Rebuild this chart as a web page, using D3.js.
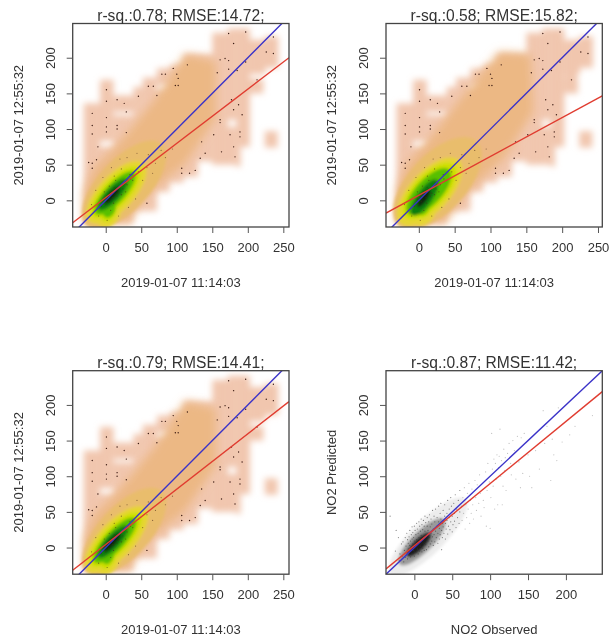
<!DOCTYPE html>
<html>
<head>
<meta charset="utf-8">
<script src="https://cdn.jsdelivr.net/npm/d3@7/dist/d3.min.js"></script>
<style>
  html, body { margin: 0; padding: 0; background: #fff; }
  svg { display: block; filter: blur(0.35px); }
  text { font-family: "Liberation Sans", sans-serif; fill: #333; }
</style>
</head>
<body>
<div class="chart"></div>
<script>
// values
const titles = ["r-sq.:0.78; RMSE:14.72;", "r-sq.:0.58; RMSE:15.82;", "r-sq.:0.79; RMSE:14.41;", "r-sq.:0.87; RMSE:11.42;"];
const xLabels = ["2019-01-07 11:14:03", "2019-01-07 11:14:03", "2019-01-07 11:14:03", "NO2 Observed"];
const yLabels = ["2019-01-07 12:55:32", "2019-01-07 12:55:32", "2019-01-07 12:55:32", "NO2 Predicted"];
const xTicks = [[0, 50, 100, 150, 200, 250], [0, 50, 100, 150, 200, 250], [0, 50, 100, 150, 200, 250], [0, 50, 100, 150, 200]];
const yTicks = [0, 50, 100, 150, 200];
const xDomains = [[-46.5, 258], [-45.8, 256], [-46.5, 258], [-37.4, 248]];
const yDomain = [-37.4, 248];
// regression fit [slope, intercept]
const fits = [[0.76, 3.9], [0.545, 7], [0.777, 4.2], [0.871, 2.6]];

// smoothed density: low-density patches [x0, x1, y0, y1]
const lowDensity = [
  [-31, -8, -33, 136], [-8, 11, -33, 75], [-8, 11, 83, 169], [11, 39, -33, 119], [11, 39, 124, 147],
  [39, 52, -15, 159], [52, 72, -15, 172], [72, 90, 12, 154], [72, 90, 162, 185], [90, 110, 25, 190],
  [110, 130, 33, 205], [130, 150, 55, 205], [150, 172, 50, 235], [172, 184, 50, 103], [172, 184, 113, 241],
  [184, 203, 75, 241], [184, 190, 47, 75], [203, 222, 150, 170], [203, 225, 177, 225], [224, 243, 186, 230],
  [224, 242, 74, 97]
];
// extra patch seen only in the second panel
const lowDensityExtra = [[], [[204, 221, 155, 178]], [], []];
// medium density region (x, y outline)
const midDensity = [
  [[-30, -32], [32, -30], [58, 8], [112, 52], [155, 115], [155, 195], [112, 205], [68, 140], [20, 82], [-16, 46], [-30, 12]],
  [[-30, -32], [38, -30], [64, 8], [118, 58], [160, 125], [156, 205], [112, 208], [68, 155], [20, 92], [-16, 52], [-30, 16]],
  [[-30, -32], [32, -30], [58, 8], [112, 52], [155, 115], [155, 195], [112, 205], [68, 140], [20, 82], [-16, 46], [-30, 12]],
  []
];
// density core [level, cx, cy, half length, half width, tilt]
const coreBands = [
  [[0, 26, 22, 78, 36, 47], [1, 15, 11, 56, 25, 47], [1, 3, -15, 24, 18, 70], [2, 14, 11, 47, 19, 47], [2, 4, -13, 18, 12, 70],
   [3, 13, 10, 40, 14, 47], [3, 5, -11, 14, 9, 70], [4, 10, 8, 29, 10, 47], [5, 9, 7, 16, 5, 47]],
  [[0, 26, 24, 80, 40, 47], [1, 15, 12, 60, 28, 47], [1, 4, -12, 24, 20, 70], [2, 15, 13, 50, 23, 47], [2, 5, -8, 18, 14, 70],
   [3, 14, 12, 42, 18, 47], [3, 5, -6, 15, 11, 70], [4, 8, 4, 30, 11, 55], [5, 7, 3, 15, 5, 55]],
  [[0, 26, 22, 78, 36, 47], [1, 15, 11, 60, 25, 47], [1, 3, -15, 24, 17, 70], [2, 14, 11, 50, 19, 47], [2, 3, -13, 18, 11, 70],
   [3, 13, 10, 42, 14, 47], [3, 4, -10, 14, 8, 70], [4, 10, 8, 30, 10, 47], [5, 9, 7, 17, 5, 47]],
  [[6, 18, 15, 70, 22, 45], [7, 10, 8, 42, 14, 45], [8, 6, 4, 22, 8, 45]]
];
// single points visible in the three density panels
const outliers = [
  [-19, 122], [-19, 105], [-19, 93], [1, 155], [1, 139], [1, 116], [1, 103], [1, 96], [16, 141], [26, 136], [29, 124],
  [16, 105], [16, 100], [29, 95], [46, 146], [60, 160], [67, 160], [72, 147], [79, 177], [84, 177], [95, 185], [100, 177],
  [102, 171], [98, 161], [102, 161], [115, 190], [-11, 75], [-24, 53], [-19, 52], [-19, 45], [-13, 57], [58, -4], [107, 45],
  [107, 38], [118, 38], [126, 42], [135, 82], [140, 66], [133, 59], [152, 92], [161, 113], [161, 109], [163, 68], [175, 92],
  [180, 75], [189, 89], [189, 96], [182, 61], [180, 127], [187, 134], [192, 120], [177, 141], [157, 179], [161, 197],
  [168, 199], [173, 196], [173, 184], [185, 182], [180, 220], [197, 236], [173, 234], [236, 229], [226, 208], [236, 206],
  [197, 194], [213, 169]
];
// faint speckle over the orange and yellow part
const speckle = [
  [12, 34], [22, 44], [35, 30], [46, 40], [52, 28], [58, 46], [66, 38], [70, 52], [84, 60], [78, 70], [94, 72], [60, 64],
  [44, 66], [30, 60], [20, 58], [8, 46], [-4, 32], [-14, 14], [-20, -6], [-10, -22], [2, -28], [18, -22], [32, -10], [42, 2],
  [2, 6], [6, 12], [10, 4], [14, 14], [18, 10], [4, -2], [9, 9], [12, 18], [20, 20], [24, 16], [16, 6], [-2, 2], [0, -6],
  [26, 26], [30, 22], [34, 36], [38, 28], [-6, -8], [7, -14], [11, -4], [22, 8], [28, 12], [-2, 12], [5, 20], [14, 28]
];
// observed vs predicted points of the last panel
const obsPred = [
  [-32, 44], [-25, -5], [-24, 24], [-21, 14], [-20, -18], [-19, -9], [-17, 5], [-16, -12], [-15, 8], [-14, -20], [-13, -4],
  [-12, 14], [-12, -14], [-11, 2], [-10, -7], [-10, 20], [-9, 11], [-9, -16], [-8, -2], [-8, 6], [-7, -11], [-7, 15],
  [-6, 3], [-6, 24], [-6, -6], [-5, 9], [-5, -13], [-4, 18], [-4, 1], [-3, 29], [-3, -9], [-3, 12], [-2, 5], [-2, 21],
  [-1, -4], [-1, 14], [0, 30], [0, 9], [0, -12], [1, 24], [1, 3], [2, 18], [2, -7], [3, 34], [3, 11], [4, 26], [4, -2],
  [5, 20], [5, -9], [6, 36], [6, 14], [7, 30], [7, -5], [8, 23], [8, 2], [9, 40], [9, 17], [10, 32], [10, -6], [11, 25],
  [11, -1], [12, 38], [12, 12], [13, 30], [13, -4], [14, 23], [14, 44], [15, 4], [15, 35], [16, 18], [16, -3], [17, 30],
  [17, 42], [18, 9], [18, 24], [19, 36], [19, 1], [20, 46], [20, 14], [21, 29], [21, 5], [22, 40], [22, 20], [23, 9],
  [23, 33], [24, 52], [24, 15], [25, 26], [25, 3], [26, 44], [26, 18], [27, 36], [27, 8], [28, 54], [28, 23], [29, 14],
  [30, 42], [30, 30], [31, 6], [31, 20], [32, 58], [32, 36], [33, 12], [33, 27], [34, 48], [34, 18], [35, 40], [35, 62],
  [36, -3], [36, 24], [37, 34], [37, 14], [38, 52], [38, 29], [39, 20], [40, 44], [40, 60], [41, 34], [41, 12], [42, 26],
  [43, 48], [43, 38], [44, 66], [44, 19], [45, 30], [46, 54], [46, 42], [47, 25], [48, 36], [48, 70], [49, 58], [50, 44],
  [50, 22], [51, 32], [52, 62], [53, 48], [53, 37], [54, 74], [55, 28], [56, 54], [57, 42], [58, 66], [59, 34], [60, 80],
  [60, 50], [62, 58], [63, 38], [64, 70], [65, 48], [66, 84], [67, 26], [68, 60], [69, 42], [70, 76], [71, 54], [72, 90],
  [73, 34], [74, 66], [75, 48], [76, 82], [77, 60], [78, 40], [80, 94], [81, 70], [82, 52], [83, 88], [85, 62], [86, 102],
  [87, 76], [88, 44], [90, 90], [91, 66], [92, 56], [94, 106], [95, 30], [96, 80], [97, 118], [99, 92], [100, 27], [101, 70],
  [102, 160], [103, 110], [104, 86], [105, 124], [106, 54], [107, 118], [108, 96], [109, 130], [110, 60], [111, 112],
  [112, 128], [113, 166], [114, 100], [115, 122], [116, 60], [117, 86], [118, 138], [119, 108], [120, 126], [121, 80],
  [123, 132], [125, 146], [127, 118], [128, 102], [130, 150], [132, 136], [134, 96], [136, 156], [138, 120], [140, 84],
  [141, 154], [143, 104], [145, 160], [150, 130], [152, 100], [155, 84], [160, 136], [165, 110], [170, 192], [172, 146],
  [175, 170], [180, 94], [182, 152], [184, 130], [188, 122], [190, 196], [195, 148], [205, 158], [212, 170], [235, 185]
];

const levelColors = ["#e9bd6c", "#e6d530", "#cfdf00", "#58c000", "#0a7f10", "#0a260a", "#ececec", "#9a9a9a", "#1c1c1c"];

const boxes = [
  { left: 72.7, top: 23.5 }, { left: 386, top: 23.5 },
  { left: 72.7, top: 370.7 }, { left: 386, top: 370.7 }
];
const boxW = 216.3, boxH = 203.5;

const svg = d3.select(".chart").append("svg").attr("width", 609).attr("height", 636);
const defs = svg.append("defs");
[["blurLow", 3], ["blurMid", 5], ["blurCore", 1.7], ["blurCloud", 1.6]].forEach(b => {
  defs.append("filter").attr("id", b[0])
    .attr("x", "-30%").attr("y", "-30%").attr("width", "160%").attr("height", "160%")
    .append("feGaussianBlur").attr("stdDeviation", b[1]);
});

titles.forEach((title, i) => {
  const box = boxes[i];
  const g = svg.append("g").attr("transform", `translate(${box.left},${box.top})`);

  const x = d3.scaleLinear().domain(xDomains[i]).range([0, boxW]);
  const y = d3.scaleLinear().domain(yDomain).range([boxH, 0]);

  defs.append("clipPath").attr("id", "clip" + i)
    .append("rect").attr("width", boxW).attr("height", boxH);
  const plot = g.append("g").attr("clip-path", `url(#clip${i})`);

  if (i < 3) {
    // peach patches
    plot.append("g").attr("filter", "url(#blurLow)").attr("fill", "#f1c6ae")
      .selectAll("rect").data(lowDensity.concat(lowDensityExtra[i])).join("rect")
      .attr("x", d => x(d[0])).attr("width", d => x(d[1]) - x(d[0]))
      .attr("y", d => y(d[3])).attr("height", d => y(d[2]) - y(d[3]));
    // orange middle
    plot.append("path").attr("filter", "url(#blurMid)").attr("fill", "#ecb884")
      .attr("d", d3.line().x(d => x(d[0])).y(d => y(d[1])).curve(d3.curveLinearClosed)(midDensity[i]));
  }

  // density core, light levels first
  const bands = plot.append("g").attr("filter", i < 3 ? "url(#blurCore)" : "url(#blurCloud)");
  bands.selectAll("ellipse").data(coreBands[i]).join("ellipse")
    .attr("transform", d => `translate(${x(d[1])},${y(d[2])}) rotate(${-d[5]})`)
    .attr("rx", d => x(d[3]) - x(0))
    .attr("ry", d => x(d[4]) - x(0))
    .attr("fill", d => levelColors[d[0]]);

  if (i < 3) {
    plot.append("g").attr("fill", "#4a2a18").attr("opacity", 0.6)
      .selectAll("circle").data(speckle).join("circle")
      .attr("cx", d => x(d[0])).attr("cy", d => y(d[1])).attr("r", 0.6);
    plot.append("g").attr("fill", "#3a1a12")
      .selectAll("circle").data(outliers).join("circle")
      .attr("cx", d => x(d[0])).attr("cy", d => y(d[1])).attr("r", 0.7);
  } else {
    plot.append("g").attr("fill", "#333")
      .selectAll("circle").data(obsPred).join("circle")
      .attr("cx", d => x(d[0])).attr("cy", d => y(d[1])).attr("r", 0.6)
      .attr("opacity", d => d[0] > 60 ? 0.3 : 0.6);
  }

  // 1:1 line and regression line
  const ends = x.domain();
  const line = d3.line().x(d => x(d[0])).y(d => y(d[1]));
  plot.append("path").attr("d", line(ends.map(v => [v, v])))
    .attr("stroke", "#3a32c8").attr("stroke-width", 1.4).attr("fill", "none");
  plot.append("path").attr("d", line(ends.map(v => [v, fits[i][0] * v + fits[i][1]])))
    .attr("stroke", "#e03c30").attr("stroke-width", 1.4).attr("fill", "none");

  // box and axes, R style
  g.append("rect").attr("width", boxW).attr("height", boxH)
    .attr("fill", "none").attr("stroke", "#444").attr("stroke-width", 1.3);

  const xAxis = d3.axisBottom(x).tickValues(xTicks[i]).tickSize(6).tickPadding(10).tickSizeOuter(0);
  const gx = g.append("g").attr("transform", `translate(0,${boxH})`).call(xAxis);
  const yAxis = d3.axisLeft(y).tickValues(yTicks).tickSize(6).tickSizeOuter(0);
  const gy = g.append("g").call(yAxis);
  [gx, gy].forEach(a => {
    a.select(".domain").remove();
    a.selectAll("line").attr("stroke", "#555");
    a.selectAll("text").style("font-family", '"Liberation Sans", sans-serif').style("font-size", "13px").attr("fill", "#333");
  });
  gy.selectAll("text")
    .attr("text-anchor", "middle").attr("dy", 0)
    .attr("x", 0).attr("y", 0)
    .attr("transform", "translate(-18,0) rotate(-90)");

  g.append("text").attr("x", boxW / 2).attr("y", -3).attr("text-anchor", "middle")
    .style("font-size", "15.6px").text(title);
  g.append("text").attr("x", boxW / 2).attr("y", boxH + 59.5).attr("text-anchor", "middle")
    .style("font-size", "13px").text(xLabels[i]);
  g.append("text").attr("transform", `translate(-50,${boxH / 2}) rotate(-90)`).attr("text-anchor", "middle")
    .style("font-size", "13px").text(yLabels[i]);
});
</script>
</body>
</html>
